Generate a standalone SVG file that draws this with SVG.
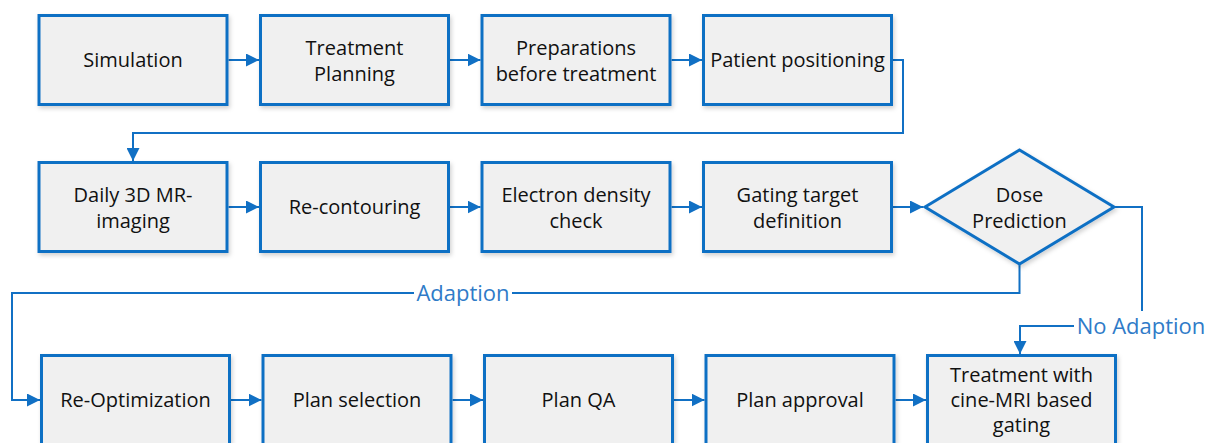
<svg xmlns="http://www.w3.org/2000/svg" width="1208" height="443" viewBox="0 0 1208 443">
<style>
.box{fill:#f0f0f0;stroke:#1170c4;stroke-width:3;filter:url(#sh)}
.t{font-family:"Open Sans","Noto Sans",sans-serif;font-size:20px;fill:#111;text-anchor:middle}
.c{fill:none;stroke:#1170c4;stroke-width:2}
.lbl{font-family:"Open Sans","Noto Sans",sans-serif;font-size:22px;fill:#2f7bc8;text-anchor:middle}
</style>
<defs>
<marker id="ar" markerUnits="userSpaceOnUse" markerWidth="13" markerHeight="13" refX="12" refY="6" orient="auto" viewBox="0 0 12 12">
<path d="M0,0 L12,6 L0,12 z" fill="#1170c4"/>
</marker>
<filter id="sh" x="-10%" y="-10%" width="125%" height="130%">
<feDropShadow dx="1.5" dy="2.5" stdDeviation="2" flood-color="#000" flood-opacity="0.18"/>
</filter>
</defs>
<g id="connectors">
<path class="c" marker-end="url(#ar)" d="M228.5,60 H259"/>
<path class="c" marker-end="url(#ar)" d="M450,60 H480.5"/>
<path class="c" marker-end="url(#ar)" d="M671.5,60 H702"/>
<path class="c" marker-end="url(#ar)" d="M893,60 H903 V133 H133 V161"/>
<path class="c" marker-end="url(#ar)" d="M228.5,207 H259"/>
<path class="c" marker-end="url(#ar)" d="M450,207 H480.5"/>
<path class="c" marker-end="url(#ar)" d="M671.5,207 H702"/>
<path class="c" marker-end="url(#ar)" d="M893,207 H923"/>
<path class="c" marker-end="url(#ar)" d="M1019.5,265 V293 H12 V400 H40"/>
<path class="c" marker-end="url(#ar)" d="M1115,207 H1142 V326 H1020 V354"/>
<path class="c" marker-end="url(#ar)" d="M231,400 H261.5"/>
<path class="c" marker-end="url(#ar)" d="M452.5,400 H483"/>
<path class="c" marker-end="url(#ar)" d="M674,400 H704.5"/>
<path class="c" marker-end="url(#ar)" d="M895.5,400 H926"/>
<g id="label-adaption">
<rect x="414" y="282" width="98" height="22" fill="#fff"/>
<text class="lbl" x="463" y="301">Adaption</text>
</g>
<g id="label-noadaption">
<rect x="1074" y="311" width="134" height="28" fill="#fff"/>
<text class="lbl" x="1141" y="334">No Adaption</text>
</g>
</g>
<g id="n1"><rect class="box" x="39" y="15.5" width="188" height="89"/><text class="t" x="133" y="67">Simulation</text></g>
<g id="n2"><rect class="box" x="260.5" y="15.5" width="188" height="89"/><text class="t" x="354.5" y="55">Treatment</text><text class="t" x="354.5" y="81">Planning</text></g>
<g id="n3"><rect class="box" x="482" y="15.5" width="188" height="89"/><text class="t" x="576" y="55">Preparations</text><text class="t" x="576" y="81">before treatment</text></g>
<g id="n4"><rect class="box" x="703.5" y="15.5" width="188" height="89"/><text class="t" x="797.5" y="67">Patient positioning</text></g>
<g id="n5"><rect class="box" x="39" y="162.5" width="188" height="89"/><text class="t" x="133" y="202">Daily 3D MR-</text><text class="t" x="133" y="228">imaging</text></g>
<g id="n6"><rect class="box" x="260.5" y="162.5" width="188" height="89"/><text class="t" x="354.5" y="214">Re-contouring</text></g>
<g id="n7"><rect class="box" x="482" y="162.5" width="188" height="89"/><text class="t" x="576" y="202">Electron density</text><text class="t" x="576" y="228">check</text></g>
<g id="n8"><rect class="box" x="703.5" y="162.5" width="188" height="89"/><text class="t" x="797.5" y="202">Gating target</text><text class="t" x="797.5" y="228">definition</text></g>
<g id="n9"><polygon class="box" points="925,207 1019.5,150 1114,207 1019.5,264"/><text class="t" x="1019.5" y="202">Dose</text><text class="t" x="1019.5" y="228">Prediction</text></g>
<g id="n10"><rect class="box" x="41.5" y="355.5" width="188" height="89"/><text class="t" x="135.5" y="407">Re-Optimization</text></g>
<g id="n11"><rect class="box" x="263" y="355.5" width="188" height="89"/><text class="t" x="357" y="407">Plan selection</text></g>
<g id="n12"><rect class="box" x="484.5" y="355.5" width="188" height="89"/><text class="t" x="578.5" y="407">Plan QA</text></g>
<g id="n13"><rect class="box" x="706" y="355.5" width="188" height="89"/><text class="t" x="800" y="407">Plan approval</text></g>
<g id="n14"><rect class="box" x="927.5" y="355.5" width="188" height="89"/><text class="t" x="1021.5" y="382">Treatment with</text><text class="t" x="1021.5" y="407">cine-MRI based</text><text class="t" x="1021.5" y="432">gating</text></g>
</svg>
